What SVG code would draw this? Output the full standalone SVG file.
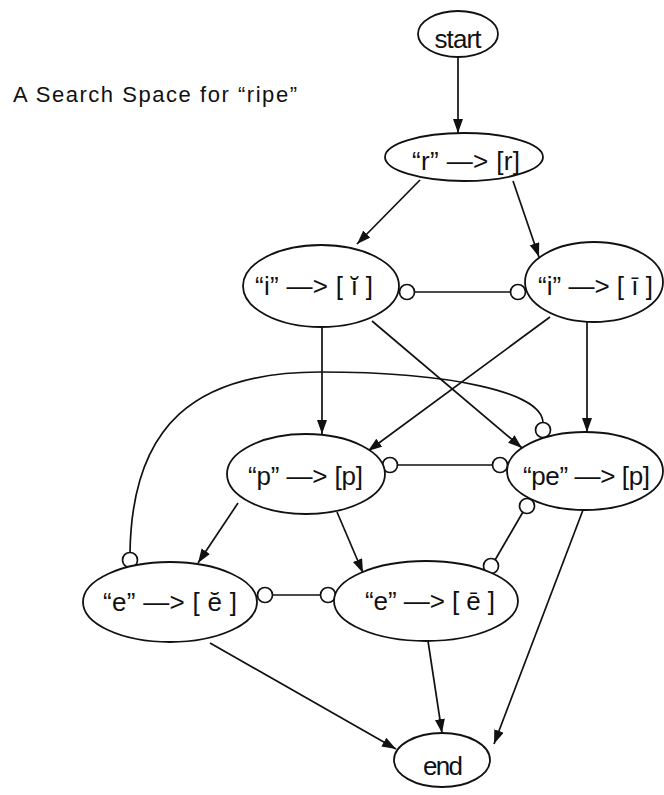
<svg xmlns="http://www.w3.org/2000/svg" width="664" height="795" viewBox="0 0 664 795">
<style>
.node ellipse{fill:#fff;stroke:#111;stroke-width:1.8}
.lbl{font-family:"Liberation Sans","DejaVu Sans",sans-serif;font-size:26px;fill:#111;text-anchor:middle}
.edge{fill:none;stroke:#111;stroke-width:1.7}
.arr{marker-end:url(#ah)}
.dot{fill:#fff;stroke:#111;stroke-width:1.7}
.title{font-family:"Liberation Sans","DejaVu Sans",sans-serif;font-size:22px;fill:#111}
</style>
<defs>
<marker id="ah" markerUnits="userSpaceOnUse" markerWidth="16" markerHeight="12" refX="14" refY="5" orient="auto">
<path d="M0,0 L14,5 L0,10 z" fill="#111"/>
</marker>
</defs>
<rect width="664" height="795" fill="#fff"/>
<text class="title" x="13" y="102" textLength="284" lengthAdjust="spacing">A Search Space for “ripe”</text>

<g id="connectors">
<path class="edge arr" d="M458,57 L458,133"/>
<path class="edge arr" d="M420,180 L357,244"/>
<path class="edge arr" d="M513,181 L539,257"/>
<path class="edge arr" d="M322,327 L322,434"/>
<path class="edge arr" d="M587,322 L587,432"/>
<path class="edge arr" d="M372,321 L522,448"/>
<path class="edge arr" d="M550,317 L368,451"/>
<path class="edge arr" d="M238,503 L198,563"/>
<path class="edge arr" d="M337,512 L363,573"/>
<path class="edge arr" d="M210,643 L396,749"/>
<path class="edge arr" d="M428,641 L442,733"/>
<path class="edge arr" d="M583,510 L494,744"/>
<path class="edge" d="M414.5,292 L510.5,292"/>
<circle class="dot" cx="407" cy="292" r="7.5"/>
<circle class="dot" cx="518" cy="292" r="7.5"/>
<path class="edge" d="M397.5,465 L492.5,465"/>
<circle class="dot" cx="390" cy="465" r="7.5"/>
<circle class="dot" cx="500" cy="465" r="7.5"/>
<path class="edge" d="M272.5,595 L320.5,595"/>
<circle class="dot" cx="265" cy="595" r="7.5"/>
<circle class="dot" cx="328" cy="595" r="7.5"/>
<path class="edge" d="M522.8,512.2 L495.2,559.8"/>
<circle class="dot" cx="527" cy="506" r="7.5"/>
<circle class="dot" cx="491" cy="566" r="7.5"/>
<path class="edge" d="M130,552.5 C132,425 195,372 320,372 C450,372 542,392 543,422.5"/>
<circle class="dot" cx="130" cy="560" r="7.5"/>
<circle class="dot" cx="543" cy="430" r="7.5"/>
</g>

<g id="n-start" class="node"><ellipse cx="458" cy="34" rx="40" ry="23"/><text class="lbl" x="458" y="48" font-size="22" textLength="47" lengthAdjust="spacing">start</text></g>
<g id="n-r" class="node"><ellipse cx="464" cy="157" rx="79" ry="24"/><text class="lbl" x="466" y="170" textLength="108" lengthAdjust="spacing">“r” —&gt; [r]</text></g>
<g id="n-i-breve" class="node"><ellipse cx="321" cy="286" rx="78" ry="41"/><text class="lbl" x="314" y="295" textLength="118" lengthAdjust="spacing">“i” —&gt; [ ĭ ]</text></g>
<g id="n-i-macron" class="node"><ellipse cx="594" cy="282" rx="69" ry="40"/><text class="lbl" x="595.5" y="295" textLength="115" lengthAdjust="spacing">“i” —&gt; [ ī ]</text></g>
<g id="n-p" class="node"><ellipse cx="306" cy="474" rx="79" ry="40"/><text class="lbl" x="305.5" y="485" textLength="115" lengthAdjust="spacing">“p” —&gt; [p]</text></g>
<g id="n-pe" class="node"><ellipse cx="585" cy="471" rx="78" ry="39"/><text class="lbl" x="586.5" y="485" textLength="127" lengthAdjust="spacing">“pe” —&gt; [p]</text></g>
<g id="n-e-breve" class="node"><ellipse cx="170" cy="602" rx="87" ry="40"/><text class="lbl" x="170" y="611" textLength="134" lengthAdjust="spacing">“e” —&gt; [ ĕ ]</text></g>
<g id="n-e-macron" class="node"><ellipse cx="426" cy="601" rx="92" ry="40"/><text class="lbl" x="430" y="610" textLength="130" lengthAdjust="spacing">“e” —&gt; [ ē ]</text></g>
<g id="n-end" class="node"><ellipse cx="442" cy="760" rx="48" ry="27"/><text class="lbl" x="443" y="775" textLength="40" lengthAdjust="spacing">end</text></g>
</svg>
